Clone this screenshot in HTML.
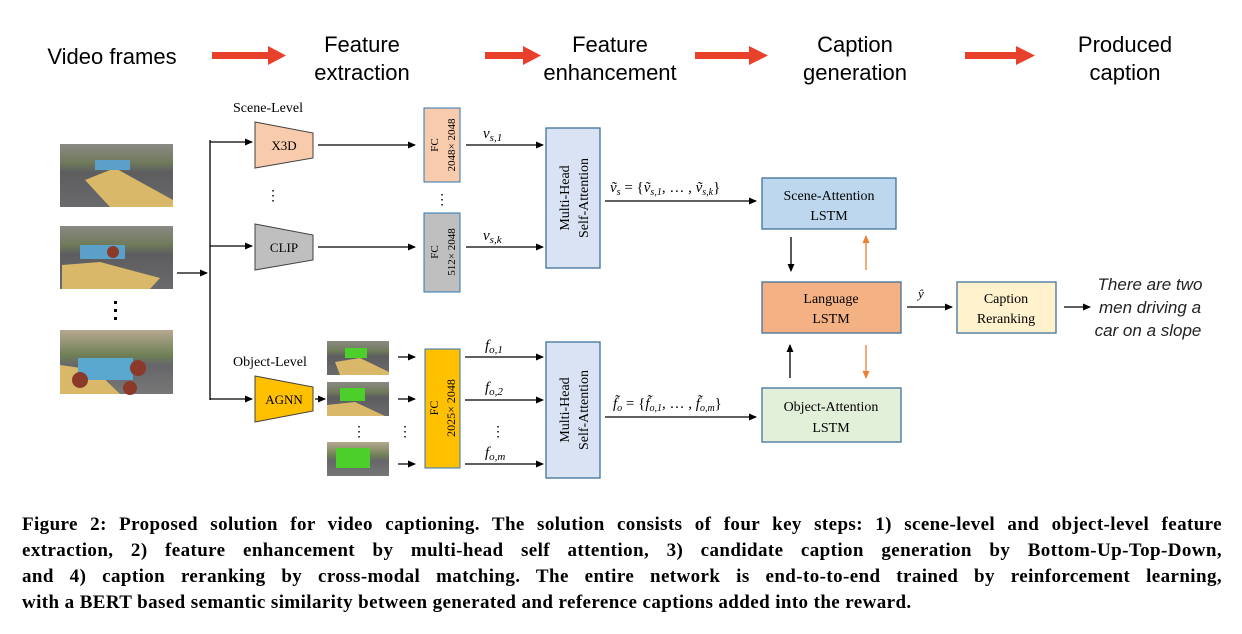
<!DOCTYPE html>
<html><head><meta charset="utf-8"><style>
html,body{margin:0;padding:0;background:#fff;width:1242px;height:634px;overflow:hidden}
.cap{position:absolute;left:22px;width:1200px;font-family:"Liberation Serif",serif;font-weight:bold;font-size:19px;letter-spacing:0.4px;line-height:26px;top:512px;color:#000}
.cap div{text-align:justify;text-align-last:justify;white-space:nowrap}
.cap div.l{text-align-last:left}
</style></head><body>
<svg width="1242" height="634" style="position:absolute;left:0;top:0" font-family="Liberation Serif, serif">
<defs>
<marker id="a" markerWidth="8" markerHeight="8" refX="7" refY="4" orient="auto" markerUnits="userSpaceOnUse"><path d="M0,0.5 L8,4 L0,7.5z" fill="#000"/></marker>
<marker id="o" markerWidth="8" markerHeight="8" refX="7" refY="4" orient="auto" markerUnits="userSpaceOnUse"><path d="M0,0.5 L8,4 L0,7.5z" fill="#ed7d31"/></marker>
<linearGradient id="ph" x1="0" y1="0" x2="0" y2="1"><stop offset="0" stop-color="#8a8a84"/><stop offset="0.3" stop-color="#6f7a5a"/><stop offset="0.45" stop-color="#5d5d60"/><stop offset="1" stop-color="#6a6a6c"/></linearGradient>
<linearGradient id="ph2" x1="0" y1="0" x2="0" y2="1"><stop offset="0" stop-color="#b6a890"/><stop offset="0.4" stop-color="#6e7f55"/><stop offset="0.55" stop-color="#66666a"/><stop offset="1" stop-color="#777"/></linearGradient>
</defs>
<g font-family="Liberation Sans, sans-serif" font-size="22" text-anchor="middle" fill="#000">
<text x="112" y="64">Video frames</text>
<text x="362" y="52">Feature</text><text x="362" y="80">extraction</text>
<text x="610" y="52">Feature</text><text x="610" y="80">enhancement</text>
<text x="855" y="52">Caption</text><text x="855" y="80">generation</text>
<text x="1125" y="52">Produced</text><text x="1125" y="80">caption</text>
</g>
<g fill="#e8402a">
<rect x="212" y="52" width="58" height="7"/><path d="M268,46 L286,55.5 L268,65z"/>
<rect x="485" y="52" width="40" height="7"/><path d="M523,46 L541,55.5 L523,65z"/>
<rect x="695" y="52" width="56" height="7"/><path d="M749,46 L768,55.5 L749,65z"/>
<rect x="965" y="52" width="53" height="7"/><path d="M1016,46 L1035,55.5 L1016,65z"/>
</g>
<g>
<rect x="60" y="144" width="113" height="63" fill="url(#ph)"/><path d="M85,180 L115,168 L173,200 L173,207 L110,207z" fill="#d9b86a"/><rect x="95" y="160" width="35" height="10" fill="#5aa0c8"/>
<rect x="60" y="226" width="113" height="63" fill="url(#ph)"/><path d="M62,265 L100,262 L160,278 L150,289 L62,289z" fill="#d9b86a"/><rect x="80" y="245" width="45" height="14" fill="#5aa0c8"/><circle cx="113" cy="252" r="6" fill="#8b3a2a"/>
<rect x="60" y="330" width="113" height="64" fill="url(#ph2)"/><path d="M60,365 L95,370 L120,394 L60,394z" fill="#d9b86a"/><rect x="78" y="358" width="55" height="22" fill="#5aa8d0"/><circle cx="80" cy="380" r="8" fill="#8b3a2a"/><circle cx="130" cy="388" r="7" fill="#8b3a2a"/><circle cx="138" cy="368" r="8" fill="#8b3a2a"/>
</g>
<g fill="#000"><rect x="114" y="301" width="3" height="3"/><rect x="114" y="309" width="3" height="3"/><rect x="114" y="317" width="3" height="3"/></g>
<g stroke="#000" stroke-width="1.3" fill="none">
<line x1="177" y1="273" x2="207" y2="273" marker-end="url(#a)"/>
<line x1="210" y1="140" x2="210" y2="400"/>
<line x1="210" y1="142" x2="252" y2="142" marker-end="url(#a)"/>
<line x1="210" y1="246" x2="252" y2="246" marker-end="url(#a)"/>
<line x1="210" y1="399" x2="252" y2="399" marker-end="url(#a)"/>
<line x1="318" y1="145" x2="415" y2="145" marker-end="url(#a)"/>
<line x1="318" y1="247" x2="415" y2="247" marker-end="url(#a)"/>
<line x1="466" y1="145" x2="543" y2="145" marker-end="url(#a)"/>
<line x1="466" y1="247" x2="543" y2="247" marker-end="url(#a)"/>
<line x1="315" y1="399" x2="325" y2="399" marker-end="url(#a)"/>
<line x1="398" y1="357" x2="415" y2="357" marker-end="url(#a)"/>
<line x1="398" y1="399" x2="415" y2="399" marker-end="url(#a)"/>
<line x1="398" y1="464" x2="415" y2="464" marker-end="url(#a)"/>
<line x1="465" y1="357" x2="543" y2="357" marker-end="url(#a)"/>
<line x1="465" y1="400" x2="543" y2="400" marker-end="url(#a)"/>
<line x1="465" y1="464" x2="543" y2="464" marker-end="url(#a)"/>
<line x1="605" y1="201" x2="756" y2="201" marker-end="url(#a)"/>
<line x1="605" y1="417" x2="756" y2="417" marker-end="url(#a)"/>
<line x1="791" y1="237" x2="791" y2="271" marker-end="url(#a)"/>
<line x1="790" y1="378" x2="790" y2="345" marker-end="url(#a)"/>
<line x1="907" y1="307" x2="952" y2="307" marker-end="url(#a)"/>
<line x1="1064" y1="307" x2="1090" y2="307" marker-end="url(#a)"/>
</g>
<g stroke="#ed7d31" stroke-width="1.3">
<line x1="866" y1="270" x2="866" y2="236" marker-end="url(#o)"/>
<line x1="866" y1="345" x2="866" y2="378" marker-end="url(#o)"/>
</g>
<text x="233" y="112" font-size="14">Scene-Level</text>
<text x="233" y="366" font-size="14">Object-Level</text>
<path d="M255,122 L313,133 L313,158 L255,168z" fill="#f8cbad" stroke="#404040"/>
<text x="284" y="150" font-size="13" text-anchor="middle">X3D</text>
<path d="M255,224 L313,235 L313,260 L255,270z" fill="#bfbfbf" stroke="#404040"/>
<text x="284" y="252" font-size="13" text-anchor="middle">CLIP</text>
<path d="M255,376 L313,387 L313,411 L255,422z" fill="#ffc000" stroke="#404040"/>
<text x="284" y="404" font-size="13" text-anchor="middle">AGNN</text>
<g fill="#000" font-size="14" text-anchor="middle"><text x="273" y="200">⋮</text><text x="442" y="204">⋮</text><text x="359" y="436">⋮</text><text x="405" y="436">⋮</text><text x="498" y="436">⋮</text></g>
<rect x="424" y="108" width="36" height="74" fill="#f8cbad" stroke="#2e75b6"/>
<text transform="translate(438,145) rotate(-90)" font-size="11" text-anchor="middle">FC</text>
<text transform="translate(455,145) rotate(-90)" font-size="11" text-anchor="middle">2048× 2048</text>
<rect x="424" y="213" width="36" height="79" fill="#bfbfbf" stroke="#2e75b6"/>
<text transform="translate(438,252) rotate(-90)" font-size="11" text-anchor="middle">FC</text>
<text transform="translate(455,252) rotate(-90)" font-size="11" text-anchor="middle">512× 2048</text>
<rect x="425" y="349" width="35" height="119" fill="#ffc000" stroke="#2e75b6"/>
<text transform="translate(438,408) rotate(-90)" font-size="12" text-anchor="middle">FC</text>
<text transform="translate(455,408) rotate(-90)" font-size="12" text-anchor="middle">2025× 2048</text>
<rect x="327" y="341" width="62" height="34" fill="url(#ph)"/><path d="M335,362 L360,358 L389,372 L389,375 L340,375z" fill="#d9b86a"/><rect x="345" y="348" width="22" height="10" fill="#4ccf2a"/>
<rect x="327" y="382" width="62" height="34" fill="url(#ph)"/><path d="M327,405 L355,402 L385,416 L327,416z" fill="#d9b86a"/><rect x="340" y="388" width="25" height="13" fill="#4ccf2a"/>
<rect x="327" y="442" width="62" height="34" fill="url(#ph2)"/><rect x="336" y="448" width="34" height="20" fill="#4ccf2a"/>
<g font-style="italic" font-size="15" fill="#000">
<text x="483" y="138">v<tspan font-size="11" dy="3">s,1</tspan></text>
<text x="483" y="240">v<tspan font-size="11" dy="3">s,k</tspan></text>
<text x="485" y="350">f<tspan font-size="11" dy="3">o,1</tspan></text>
<text x="485" y="392">f<tspan font-size="11" dy="3">o,2</tspan></text>
<text x="485" y="457">f<tspan font-size="11" dy="3">o,m</tspan></text>
<text x="610" y="192">ṽ<tspan font-size="10" dy="3">s</tspan><tspan dy="-3" font-style="normal"> = {</tspan>ṽ<tspan font-size="10" dy="3">s,1</tspan><tspan dy="-3" font-style="normal">, … , </tspan>ṽ<tspan font-size="10" dy="3">s,k</tspan><tspan dy="-3" font-style="normal">}</tspan></text>
<text x="613" y="408">f̃<tspan font-size="10" dy="3">o</tspan><tspan dy="-3" font-style="normal"> = {</tspan>f̃<tspan font-size="10" dy="3">o,1</tspan><tspan dy="-3" font-style="normal">, … , </tspan>f̃<tspan font-size="10" dy="3">o,m</tspan><tspan dy="-3" font-style="normal">}</tspan></text>
<text x="918" y="298" font-size="13">ŷ</text>
</g>
<rect x="546" y="128" width="54" height="140" fill="#dae3f3" stroke="#41719c" stroke-width="1.3"/>
<text transform="translate(569,198) rotate(-90)" font-size="14" text-anchor="middle">Multi-Head</text>
<text transform="translate(588,198) rotate(-90)" font-size="14" text-anchor="middle">Self-Attention</text>
<rect x="546" y="342" width="54" height="136" fill="#dae3f3" stroke="#41719c" stroke-width="1.3"/>
<text transform="translate(569,410) rotate(-90)" font-size="14" text-anchor="middle">Multi-Head</text>
<text transform="translate(588,410) rotate(-90)" font-size="14" text-anchor="middle">Self-Attention</text>
<g font-size="14" text-anchor="middle">
<rect x="762" y="178" width="134" height="51" fill="#bdd7ee" stroke="#41719c" stroke-width="1.3"/>
<text x="829" y="200">Scene-Attention</text><text x="829" y="220">LSTM</text>
<rect x="762" y="282" width="139" height="51" fill="#f4b183" stroke="#41719c" stroke-width="1.3"/>
<text x="831" y="303">Language</text><text x="831" y="323">LSTM</text>
<rect x="762" y="388" width="139" height="54" fill="#e2f0d9" stroke="#41719c" stroke-width="1.3"/>
<text x="831" y="411">Object-Attention</text><text x="831" y="432">LSTM</text>
<rect x="957" y="282" width="99" height="51" fill="#fff2cc" stroke="#41719c" stroke-width="1.3"/>
<text x="1006" y="303">Caption</text><text x="1006" y="323">Reranking</text>
</g>
<g font-family="Liberation Sans, sans-serif" font-style="italic" font-size="17" text-anchor="middle" fill="#222">
<text x="1150" y="290">There are two</text><text x="1150" y="313">men driving a</text><text x="1148" y="336">car on a slope</text>
</g>
</svg>
<div class="cap">
<div>Figure 2: Proposed solution for video captioning. The solution consists of four key steps: 1) scene-level and object-level feature</div>
<div>extraction, 2) feature enhancement by multi-head self attention, 3) candidate caption generation by Bottom-Up-Top-Down,</div>
<div>and 4) caption reranking by cross-modal matching. The entire network is end-to-to-end trained by reinforcement learning,</div>
<div class="l">with a BERT based semantic similarity between generated and reference captions added into the reward.</div>
</div>
</body></html>
